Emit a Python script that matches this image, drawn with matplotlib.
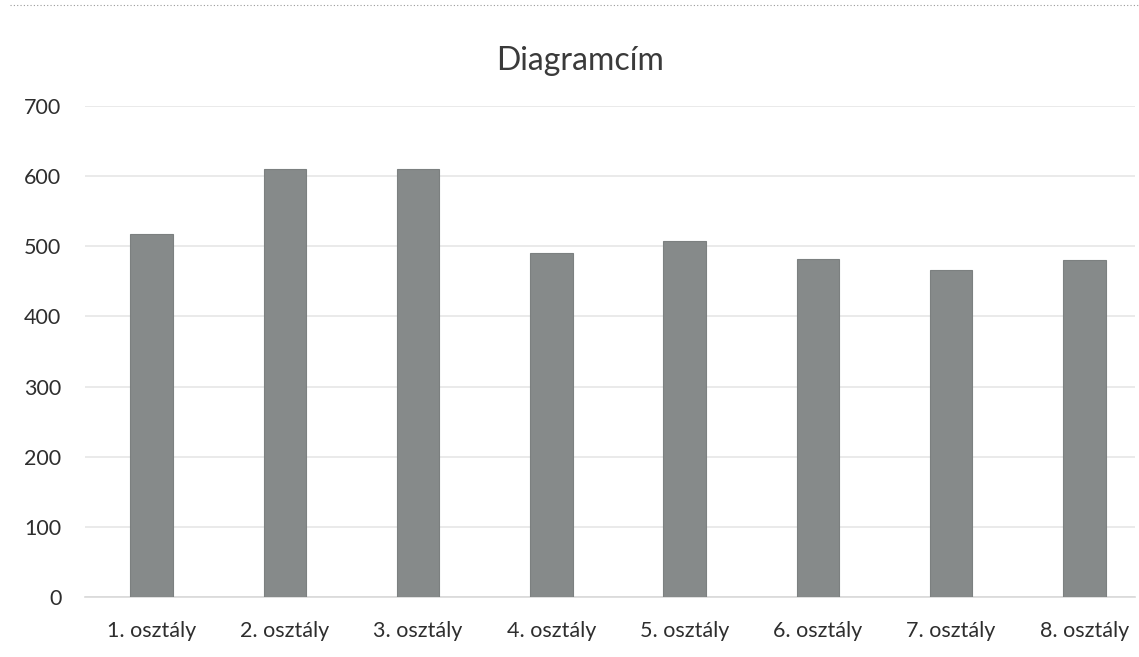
import matplotlib
matplotlib.use("Agg")
import matplotlib.pyplot as plt
from matplotlib.lines import Line2D

categories = ["1. osztály", "2. osztály", "3. osztály", "4. osztály",
              "5. osztály", "6. osztály", "7. osztály", "8. osztály"]
values = [518, 610, 610, 490, 507, 482, 466, 481]
yticks = [0, 100, 200, 300, 400, 500, 600, 700]
title = "Diagramcím"

plt.rcParams['font.family'] = ['Lato', 'DejaVu Sans']

W, H = 1139, 657
fig = plt.figure(figsize=(W / 100, H / 100), dpi=100)
fig.patch.set_facecolor("white")

left_px, right_px, top_px, bottom_px = 85, 1135, 106, 597
ax = fig.add_axes([left_px / W, (H - bottom_px) / H,
                   (right_px - left_px) / W, (bottom_px - top_px) / H])

x = list(range(len(categories)))
ax.bar(x, values, width=0.32, color="#868a8a", edgecolor="#7c8080",
       linewidth=0.8, zorder=3)

ax.set_ylim(0, 700)
ax.set_xlim(-0.5, 7.38)
ax.set_yticks(yticks)
ax.set_yticklabels([str(v) for v in yticks])
ax.set_xticks(x)
ax.set_xticklabels(categories)

ax.grid(axis="y", color="#e6e6e6", linewidth=1.2, zorder=0)
ax.set_axisbelow(True)
for s in ["top", "right", "left"]:
    ax.spines[s].set_visible(False)
ax.spines["bottom"].set_color("#d9d9d9")
ax.spines["bottom"].set_linewidth(1.2)

ax.tick_params(axis="both", length=0, labelsize=15.5, colors="#2e2e2e")
ax.tick_params(axis="y", pad=17)
ax.tick_params(axis="x", pad=17)

fig.text(0.509, 1 - 61 / H, title, ha="center", va="center",
         fontsize=23, color="#3a3a3a")

# faint dotted page border at the top of the scan
fig.add_artist(Line2D([10 / W, 1.0], [1 - 5 / H, 1 - 5 / H],
                      transform=fig.transFigure, color="#9a9a9a",
                      linestyle=(0, (1, 2)), linewidth=0.8))

fig.savefig("out.png", dpi=100, facecolor="white")
